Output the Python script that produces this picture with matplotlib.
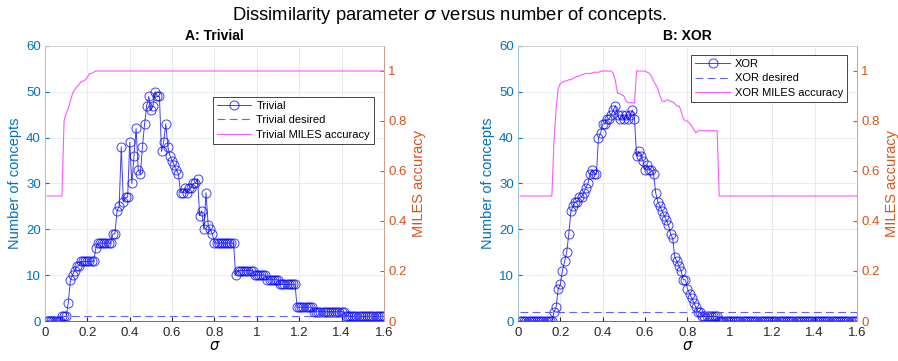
import numpy as np
import matplotlib
matplotlib.use("Agg")
import matplotlib.pyplot as plt

plt.rcParams['font.family'] = ['Liberation Sans', 'DejaVu Sans']

sigma = np.round(np.arange(1, 161) * 0.01, 2)

trivial = [
    0, 0, 0, 0, 0, 0, 0, 1, 1, 1,            # 0.01-0.10
    4, 9, 10, 11, 12, 12, 13, 13, 13, 13,    # 0.11-0.20
    13, 13, 13, 16, 17, 17, 17, 17, 17, 17,  # 0.21-0.30
    17, 19, 19, 24, 25, 38, 26, 27, 27, 39,  # 0.31-0.40
    30, 36, 42, 33, 32, 38, 43, 47, 49, 46,  # 0.41-0.50
    47, 50, 49, 49, 37, 39, 43, 38, 36, 35,  # 0.51-0.60
    34, 33, 32, 28, 28, 29, 28, 29, 29, 30,  # 0.61-0.70
    30, 31, 23, 24, 20, 28, 21, 20, 19, 17,  # 0.71-0.80
    17, 17, 17, 17, 17, 17, 17, 17, 17, 10,  # 0.81-0.90
    11, 11, 11, 11, 11, 11, 11, 11, 10, 10,  # 0.91-1.00
    10, 10, 10, 10, 9, 9, 9, 9, 9, 9,        # 1.01-1.10
    8, 8, 8, 8, 8, 8, 8, 8, 3, 3,            # 1.11-1.20
    3, 3, 3, 3, 3, 3, 2, 2, 2, 2,            # 1.21-1.30
    2, 2, 2, 2, 2, 2, 2, 2, 2, 2,            # 1.31-1.40
    2, 1, 1, 1, 1, 1, 1, 1, 1, 1,            # 1.41-1.50
    1, 1, 1, 1, 1, 1, 1, 1, 1, 1,            # 1.51-1.60
]
trivial_desired = 1
trivial_acc = [
    0.5, 0.5, 0.5, 0.5, 0.5, 0.5, 0.5, 0.5, 0.8, 0.83,
    0.85, 0.88, 0.91, 0.925, 0.936, 0.945, 0.957, 0.96, 0.964, 0.975,
    0.99, 0.99, 0.995, 1.0, 1.0, 1.0, 1.0, 1.0, 1.0, 1.0,
] + [1.0] * 130

xor = [
    0, 0, 0, 0, 0, 0, 0, 0, 0, 0,            # 0.01-0.10
    0, 0, 0, 0, 0, 0, 2, 3, 7, 8,            # 0.11-0.20
    11, 13, 15, 19, 24, 25, 26, 26, 27, 27,  # 0.21-0.30
    28, 29, 30, 32, 33, 32, 32, 40, 41, 43,  # 0.31-0.40
    43, 44, 44, 45, 46, 47, 45, 44, 45, 44,  # 0.41-0.50
    45, 44, 45, 46, 44, 36, 37, 36, 35, 33,  # 0.51-0.60
    34, 33, 33, 32, 28, 26, 25, 24, 23, 22,  # 0.61-0.70
    21, 19, 18, 14, 13, 12, 11, 9, 9, 7,     # 0.71-0.80
    6, 5, 4, 3, 2, 2, 1, 1, 1, 1,            # 0.81-0.90
    1, 1, 1, 1, 0, 0, 0, 0, 0, 0,            # 0.91-1.00
] + [0] * 60
xor_desired = 2
xor_acc = [
    0.5, 0.5, 0.5, 0.5, 0.5, 0.5, 0.5, 0.5, 0.5, 0.5,
    0.5, 0.5, 0.5, 0.5, 0.5, 0.5, 0.72, 0.85, 0.93, 0.95,
    0.955, 0.96, 0.96, 0.965, 0.965, 0.97, 0.975, 0.978, 0.98, 0.985,
    0.987, 0.99, 0.99, 0.99, 0.992, 0.995, 0.995, 0.995, 0.998, 1.0,
    1.0, 1.0, 1.0, 1.0, 0.99, 0.96, 0.91, 0.91, 0.905, 0.9,
    0.88, 0.873, 0.873, 0.873, 0.873, 1.0, 1.0, 1.0, 1.0, 1.0,
    0.995, 0.99, 0.98, 0.96, 0.945, 0.93, 0.9, 0.88, 0.877, 0.884,
    0.884, 0.877, 0.877, 0.87, 0.86, 0.86, 0.84, 0.81, 0.8, 0.8,
    0.79, 0.78, 0.765, 0.753, 0.761, 0.761, 0.761, 0.761, 0.761, 0.761,
    0.761, 0.761, 0.761, 0.761, 0.5, 0.5, 0.5, 0.5, 0.5, 0.5,
] + [0.5] * 60

xticks = [0, 0.2, 0.4, 0.6, 0.8, 1, 1.2, 1.4, 1.6]
xticklabels = ['0', '0.2', '0.4', '0.6', '0.8', '1', '1.2', '1.4', '1.6']
yticks_left = [0, 10, 20, 30, 40, 50, 60]
yticks_right = [0, 0.2, 0.4, 0.6, 0.8, 1]
yticklabels_right = ['0', '0.2', '0.4', '0.6', '0.8', '1']

BLUE_AX = '#0072BD'
ORANGE = '#D95319'
AXCOL = '#262626'

fig = plt.figure(figsize=(8.98, 3.61), dpi=100)
fig.suptitle(r'Dissimilarity parameter $\sigma$ versus number of concepts.',
             fontsize=13.2, y=0.985)

panels = [
    ('A: Trivial', 'Trivial', trivial, trivial_desired, trivial_acc,
     [0.0501, 0.1108, 0.3775, 0.7618], (0.9705, 0.8145)),
    ('B: XOR', 'XOR', xor, xor_desired, xor_acc,
     [0.5768, 0.1108, 0.3775, 0.7618], (0.9705, 0.967)),
]

for title, name, vals, desired, acc, rect, lpos in panels:
    ax = fig.add_axes(rect)
    h1, = ax.plot(sigma, vals, '-o', color='blue', lw=0.7, ms=6.5,
                  mfc='none', mew=0.7, alpha=0.75, label=name)
    h2, = ax.plot(sigma, [desired] * len(sigma), '--', color='#5050ff',
                  lw=0.8, dashes=(7, 4), alpha=0.9, label=name + ' desired')
    ax.set_xlim(0, 1.6)
    ax.set_ylim(0, 60)
    ax.set_xticks(xticks)
    ax.set_xticklabels(xticklabels)
    ax.set_yticks(yticks_left)
    ax.grid(True, color='#e6ebef', lw=0.7)
    ax.set_axisbelow(True)
    ax.tick_params(axis='x', direction='in', length=3, labelsize=9.5,
                   colors=AXCOL, pad=4.5)
    ax.tick_params(axis='y', direction='in', length=3, colors=BLUE_AX,
                   labelsize=9.5, pad=3)
    ax.spines['left'].set_color('#8fbde0')
    ax.spines['bottom'].set_color('#555555')
    ax.spines['top'].set_color('#cccccc')
    for s in ax.spines.values():
        s.set_linewidth(0.6)
    ax.set_xlabel(r'$\sigma$', fontsize=10.5, labelpad=0)
    ax.set_ylabel('Number of concepts', color=BLUE_AX, fontsize=10.5, labelpad=3)
    ax.set_title(title, fontsize=10, fontweight='bold', pad=4)

    ax2 = ax.twinx()
    h3, = ax2.plot(sigma, acc, '-', color='#ff55ff', lw=0.8,
                   label=name + ' MILES accuracy')
    ax2.set_ylim(0, 1.1)
    ax2.set_yticks(yticks_right)
    ax2.set_yticklabels(yticklabels_right)
    ax2.tick_params(direction='in', length=3, colors=ORANGE, labelsize=9.5, pad=3)
    ax2.spines['right'].set_color('#f2b8a0')
    ax2.spines['right'].set_linewidth(0.6)
    ax2.spines['left'].set_visible(False)
    ax2.spines['top'].set_visible(False)
    ax2.spines['bottom'].set_visible(False)
    ax2.set_ylabel('MILES accuracy', color=ORANGE, fontsize=10.5, labelpad=4)

    leg = ax2.legend([h1, h2, h3], [h1.get_label(), h2.get_label(), h3.get_label()],
                     loc='upper right', bbox_to_anchor=lpos, fontsize=8,
                     frameon=True, fancybox=False, edgecolor='#262626',
                     handlelength=3.1, borderpad=0.35, labelspacing=0.4,
                     handletextpad=0.45, borderaxespad=0.0, framealpha=1)
    leg.get_frame().set_linewidth(0.6)

fig.savefig('out.png', dpi=100)
